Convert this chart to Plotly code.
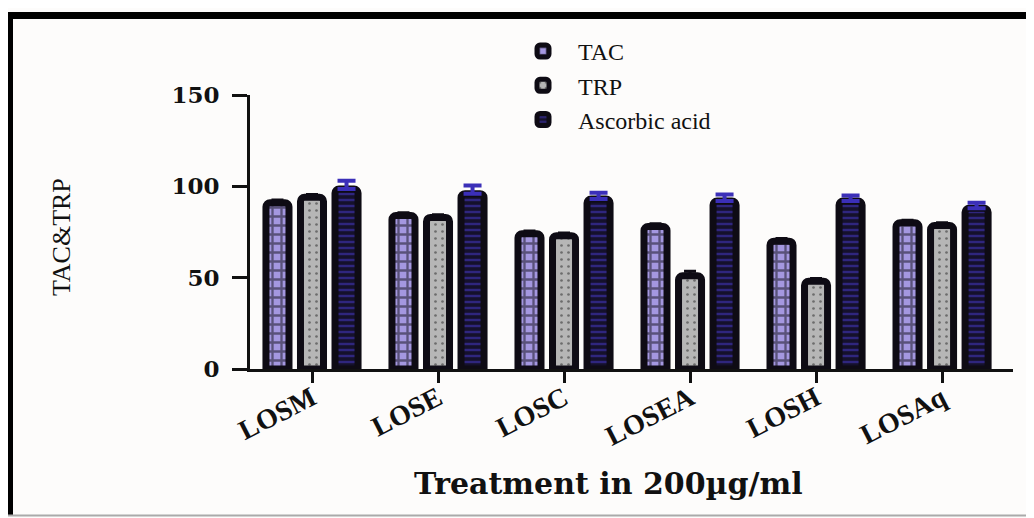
import plotly.graph_objects as go

categories = ["LOSM", "LOSE", "LOSC", "LOSEA", "LOSH", "LOSAq"]
tac = [91, 84, 74, 78, 70, 80]
trp = [94, 83, 73, 51, 48, 78.5]
ascorbic = [98.5, 96, 93, 92, 92, 88]
tac_err = [1.5, 1.5, 1.5, 1.5, 1.5, 1.5]
trp_err = [1.5, 1.5, 1.5, 2.5, 1.5, 1.5]
ascorbic_err = [4.5, 4.5, 3.5, 3.5, 3.0, 3.0]
y_ticks = [0, 50, 100, 150]

# page has an 8px body margin; lay the figure out in page coordinates
OFF = 8
W, H = 1034 - OFF, 518 - OFF
PLOT_L, PLOT_R, PLOT_T, PLOT_B = 250, 1013, 95, 369  # page px
L, T = PLOT_L - OFF, PLOT_T - OFF
R, B = W - (PLOT_R - OFF), H - (PLOT_B - OFF)
PW, PH = PLOT_R - PLOT_L, PLOT_B - PLOT_T


def px_x(px):
    return (px - PLOT_L) / PW


def px_y(py):
    return (PLOT_B - py) / PH


OUT = "#0e0b14"
fig = go.Figure()
fig.add_trace(go.Bar(
    name="TAC", x=categories, y=tac,
    marker=dict(color="#a497e0", line=dict(color=OUT, width=7), cornerradius=4,
                pattern=dict(shape="+", fgcolor=OUT, bgcolor="#a497e0", size=9, solidity=0.45)),
    error_y=dict(type="data", array=tac_err, arrayminus=[0]*6, symmetric=False,
                 color=OUT, thickness=3, width=6),
))
fig.add_trace(go.Bar(
    name="TRP", x=categories, y=trp,
    marker=dict(color="#b6b6b6", line=dict(color=OUT, width=7), cornerradius=4,
                pattern=dict(shape=".", fgcolor="#222222", bgcolor="#b6b6b6", size=7, solidity=0.12)),
    error_y=dict(type="data", array=trp_err, arrayminus=[0]*6, symmetric=False,
                 color=OUT, thickness=3, width=6),
))
fig.add_trace(go.Bar(
    name="Ascorbic acid", x=categories, y=ascorbic,
    marker=dict(color="#15112c", line=dict(color=OUT, width=7), cornerradius=4,
                pattern=dict(shape="-", fgcolor="#4a3bd0", bgcolor="#15112c", size=6, solidity=0.4)),
    error_y=dict(type="data", array=ascorbic_err, arrayminus=[0]*6, symmetric=False,
                 color="#3b2fb8", thickness=4, width=9),
))

fig.update_layout(
    width=W, height=H,
    margin=dict(l=L, r=R, t=T, b=B, autoexpand=False),
    paper_bgcolor="#fdfcfb", plot_bgcolor="#fdfcfb",
    barmode="group", bargap=0.178, bargroupgap=0.333,
    showlegend=True,
    legend=dict(x=px_x(508), y=px_y(29), xanchor="left", yanchor="top",
                bgcolor="rgba(0,0,0,0)", itemwidth=60,
                font=dict(family="Liberation Serif", size=24, color="#111111")),
    font=dict(family="Liberation Serif", color="#111111"),
)
fig.update_xaxes(
    range=[-0.492, 5.563], showline=True, linecolor="#111111", linewidth=3,
    ticks="outside", ticklen=11, tickwidth=3, tickcolor="#111111",
    tickangle=-27, showgrid=False, zeroline=False, ticklabelstandoff=-12,
    tickfont=dict(family="Liberation Serif", size=28, weight="bold", color="#111111"),
)
fig.update_yaxes(
    range=[0, 150], tickvals=y_ticks, showline=True, linecolor="#111111", linewidth=3,
    ticks="outside", ticklen=15, tickwidth=3, tickcolor="#111111",
    showgrid=False, zeroline=False, ticklabelstandoff=8,
    tickfont=dict(family="DejaVu Serif", size=23, weight="bold", color="#111111"),
)

fig.add_annotation(text="Treatment in 200µg/ml", x=px_x(608), y=px_y(483),
                   xref="paper", yref="paper", showarrow=False,
                   xanchor="center", yanchor="middle",
                   font=dict(family="DejaVu Serif", size=30, weight="bold", color="#111111"))
fig.add_annotation(text="TAC&TRP", x=px_x(62), y=px_y(237), textangle=-90,
                   xref="paper", yref="paper", showarrow=False,
                   xanchor="center", yanchor="middle",
                   font=dict(family="Liberation Serif", size=26, color="#111111"))

# image frame
fig.add_shape(type="rect", xref="paper", yref="paper", x0=px_x(0), x1=px_x(1040),
              y0=px_y(19), y1=px_y(12), fillcolor="#000000", line_width=0)
fig.add_shape(type="rect", xref="paper", yref="paper", x0=px_x(0), x1=px_x(13),
              y0=px_y(515), y1=px_y(12), fillcolor="#000000", line_width=0)
fig.add_shape(type="line", xref="paper", yref="paper", x0=px_x(5), x1=px_x(1040),
              y0=px_y(515.5), y1=px_y(515.5), line=dict(color="#aaaaaa", width=2))
fig.add_shape(type="line", xref="paper", yref="paper", x0=px_x(1032), x1=px_x(1032),
              y0=px_y(515), y1=px_y(19), line=dict(color="#aaaaaa", width=2))

fig.write_html("out.html")
